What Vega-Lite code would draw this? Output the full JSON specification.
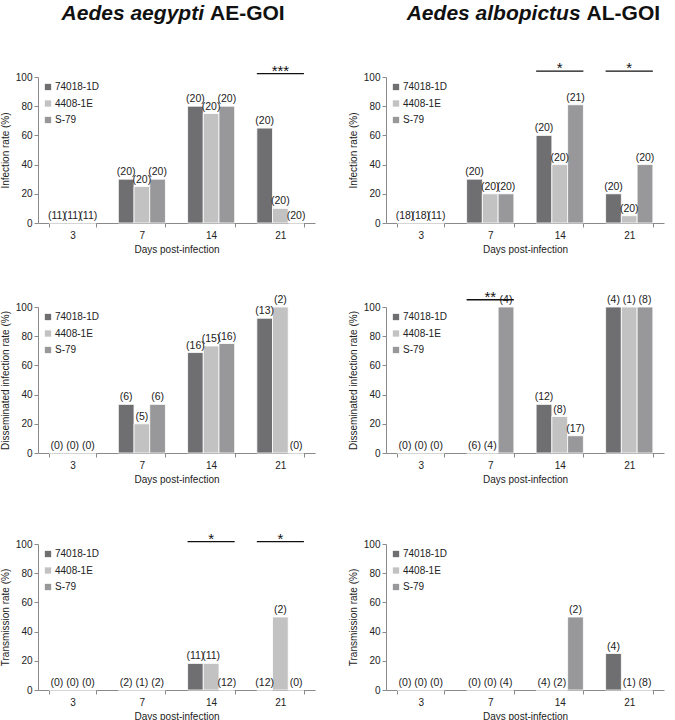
{
  "$schema": "https://vega.github.io/schema/vega-lite/v6.json",
  "padding": {"left": 0, "top": 2, "right": 0, "bottom": 0},
  "spacing": 36,
  "datasets": {
    "bars": [
      {"panel": "A1", "day": "3", "strain": "74018-1D", "rate": 0, "label": "(11)"},
      {"panel": "A1", "day": "3", "strain": "4408-1E", "rate": 0, "label": "(11)"},
      {"panel": "A1", "day": "3", "strain": "S-79", "rate": 0, "label": "(11)"},
      {"panel": "A1", "day": "7", "strain": "74018-1D", "rate": 30, "label": "(20)"},
      {"panel": "A1", "day": "7", "strain": "4408-1E", "rate": 25, "label": "(20)"},
      {"panel": "A1", "day": "7", "strain": "S-79", "rate": 30, "label": "(20)"},
      {"panel": "A1", "day": "14", "strain": "74018-1D", "rate": 80, "label": "(20)"},
      {"panel": "A1", "day": "14", "strain": "4408-1E", "rate": 75, "label": "(20)"},
      {"panel": "A1", "day": "14", "strain": "S-79", "rate": 80, "label": "(20)"},
      {"panel": "A1", "day": "21", "strain": "74018-1D", "rate": 65, "label": "(20)"},
      {"panel": "A1", "day": "21", "strain": "4408-1E", "rate": 10, "label": "(20)"},
      {"panel": "A1", "day": "21", "strain": "S-79", "rate": 0, "label": "(20)"},

      {"panel": "B1", "day": "3", "strain": "74018-1D", "rate": 0, "label": "(18)"},
      {"panel": "B1", "day": "3", "strain": "4408-1E", "rate": 0, "label": "(18)"},
      {"panel": "B1", "day": "3", "strain": "S-79", "rate": 0, "label": "(11)"},
      {"panel": "B1", "day": "7", "strain": "74018-1D", "rate": 30, "label": "(20)"},
      {"panel": "B1", "day": "7", "strain": "4408-1E", "rate": 20, "label": "(20)"},
      {"panel": "B1", "day": "7", "strain": "S-79", "rate": 20, "label": "(20)"},
      {"panel": "B1", "day": "14", "strain": "74018-1D", "rate": 60, "label": "(20)"},
      {"panel": "B1", "day": "14", "strain": "4408-1E", "rate": 40, "label": "(20)"},
      {"panel": "B1", "day": "14", "strain": "S-79", "rate": 81, "label": "(21)"},
      {"panel": "B1", "day": "21", "strain": "74018-1D", "rate": 20, "label": "(20)"},
      {"panel": "B1", "day": "21", "strain": "4408-1E", "rate": 5, "label": "(20)"},
      {"panel": "B1", "day": "21", "strain": "S-79", "rate": 40, "label": "(20)"},

      {"panel": "A2", "day": "3", "strain": "74018-1D", "rate": 0, "label": "(0)"},
      {"panel": "A2", "day": "3", "strain": "4408-1E", "rate": 0, "label": "(0)"},
      {"panel": "A2", "day": "3", "strain": "S-79", "rate": 0, "label": "(0)"},
      {"panel": "A2", "day": "7", "strain": "74018-1D", "rate": 33.3, "label": "(6)"},
      {"panel": "A2", "day": "7", "strain": "4408-1E", "rate": 20, "label": "(5)"},
      {"panel": "A2", "day": "7", "strain": "S-79", "rate": 33.3, "label": "(6)"},
      {"panel": "A2", "day": "14", "strain": "74018-1D", "rate": 68.8, "label": "(16)"},
      {"panel": "A2", "day": "14", "strain": "4408-1E", "rate": 73.3, "label": "(15)"},
      {"panel": "A2", "day": "14", "strain": "S-79", "rate": 75, "label": "(16)"},
      {"panel": "A2", "day": "21", "strain": "74018-1D", "rate": 92.3, "label": "(13)"},
      {"panel": "A2", "day": "21", "strain": "4408-1E", "rate": 100, "label": "(2)"},
      {"panel": "A2", "day": "21", "strain": "S-79", "rate": 0, "label": "(0)"},

      {"panel": "B2", "day": "3", "strain": "74018-1D", "rate": 0, "label": "(0)"},
      {"panel": "B2", "day": "3", "strain": "4408-1E", "rate": 0, "label": "(0)"},
      {"panel": "B2", "day": "3", "strain": "S-79", "rate": 0, "label": "(0)"},
      {"panel": "B2", "day": "7", "strain": "74018-1D", "rate": 0, "label": "(6)"},
      {"panel": "B2", "day": "7", "strain": "4408-1E", "rate": 0, "label": "(4)"},
      {"panel": "B2", "day": "7", "strain": "S-79", "rate": 100, "label": "(4)"},
      {"panel": "B2", "day": "14", "strain": "74018-1D", "rate": 33.3, "label": "(12)"},
      {"panel": "B2", "day": "14", "strain": "4408-1E", "rate": 25, "label": "(8)"},
      {"panel": "B2", "day": "14", "strain": "S-79", "rate": 11.8, "label": "(17)"},
      {"panel": "B2", "day": "21", "strain": "74018-1D", "rate": 100, "label": "(4)"},
      {"panel": "B2", "day": "21", "strain": "4408-1E", "rate": 100, "label": "(1)"},
      {"panel": "B2", "day": "21", "strain": "S-79", "rate": 100, "label": "(8)"},

      {"panel": "A3", "day": "3", "strain": "74018-1D", "rate": 0, "label": "(0)"},
      {"panel": "A3", "day": "3", "strain": "4408-1E", "rate": 0, "label": "(0)"},
      {"panel": "A3", "day": "3", "strain": "S-79", "rate": 0, "label": "(0)"},
      {"panel": "A3", "day": "7", "strain": "74018-1D", "rate": 0, "label": "(2)"},
      {"panel": "A3", "day": "7", "strain": "4408-1E", "rate": 0, "label": "(1)"},
      {"panel": "A3", "day": "7", "strain": "S-79", "rate": 0, "label": "(2)"},
      {"panel": "A3", "day": "14", "strain": "74018-1D", "rate": 18.2, "label": "(11)"},
      {"panel": "A3", "day": "14", "strain": "4408-1E", "rate": 18.2, "label": "(11)"},
      {"panel": "A3", "day": "14", "strain": "S-79", "rate": 0, "label": "(12)"},
      {"panel": "A3", "day": "21", "strain": "74018-1D", "rate": 0, "label": "(12)"},
      {"panel": "A3", "day": "21", "strain": "4408-1E", "rate": 50, "label": "(2)"},
      {"panel": "A3", "day": "21", "strain": "S-79", "rate": 0, "label": "(0)"},

      {"panel": "B3", "day": "3", "strain": "74018-1D", "rate": 0, "label": "(0)"},
      {"panel": "B3", "day": "3", "strain": "4408-1E", "rate": 0, "label": "(0)"},
      {"panel": "B3", "day": "3", "strain": "S-79", "rate": 0, "label": "(0)"},
      {"panel": "B3", "day": "7", "strain": "74018-1D", "rate": 0, "label": "(0)"},
      {"panel": "B3", "day": "7", "strain": "4408-1E", "rate": 0, "label": "(0)"},
      {"panel": "B3", "day": "7", "strain": "S-79", "rate": 0, "label": "(4)"},
      {"panel": "B3", "day": "14", "strain": "74018-1D", "rate": 0, "label": "(4)"},
      {"panel": "B3", "day": "14", "strain": "4408-1E", "rate": 0, "label": "(2)"},
      {"panel": "B3", "day": "14", "strain": "S-79", "rate": 50, "label": "(2)"},
      {"panel": "B3", "day": "21", "strain": "74018-1D", "rate": 25, "label": "(4)"},
      {"panel": "B3", "day": "21", "strain": "4408-1E", "rate": 0, "label": "(1)"},
      {"panel": "B3", "day": "21", "strain": "S-79", "rate": 0, "label": "(8)"}
    ],
    "sig": [
      {"panel": "A1", "day": "21", "stars": "***"},
      {"panel": "B1", "day": "14", "stars": "*"},
      {"panel": "B1", "day": "21", "stars": "*"},
      {"panel": "B2", "day": "7", "stars": "**"},
      {"panel": "A3", "day": "14", "stars": "*"},
      {"panel": "A3", "day": "21", "stars": "*"}
    ]
  },
  "resolve": {"scale": {"color": "independent", "xOffset": "independent"}, "legend": {"color": "independent"}},
  "vconcat": [
    {
      "spacing": 35,
      "resolve": {"scale": {"color": "independent", "xOffset": "independent"}, "legend": {"color": "independent"}},
      "vconcat": [
        {
          "spacing": 74,
          "hconcat": [
            {
              "width": 277, "height": 24,
              "data": {"values": [{"italic": "Aedes aegypti", "plain": "AE-GOI"}]},
              "layer": [
                {"mark": {"type": "text", "align": "right", "dx": -3, "fontSize": 21, "fontWeight": "bold", "fontStyle": "italic", "color": "#111", "font": "Liberation Sans"},
                 "encoding": {"x": {"datum": 0.61, "type": "quantitative", "scale": {"domain": [0, 1]}, "axis": null}, "text": {"field": "italic"}}},
                {"mark": {"type": "text", "align": "left", "dx": 3, "fontSize": 21, "fontWeight": "bold", "color": "#111", "font": "Liberation Sans"},
                 "encoding": {"x": {"datum": 0.61, "type": "quantitative"}, "text": {"field": "plain"}}}
              ]
            },
            {
              "width": 278, "height": 24,
              "data": {"values": [{"italic": "Aedes albopictus", "plain": "AL-GOI"}]},
              "layer": [
                {"mark": {"type": "text", "align": "right", "dx": -3, "fontSize": 21, "fontWeight": "bold", "fontStyle": "italic", "color": "#111", "font": "Liberation Sans"},
                 "encoding": {"x": {"datum": 0.70, "type": "quantitative", "scale": {"domain": [0, 1]}, "axis": null}, "text": {"field": "italic"}}},
                {"mark": {"type": "text", "align": "left", "dx": 3, "fontSize": 21, "fontWeight": "bold", "color": "#111", "font": "Liberation Sans"},
                 "encoding": {"x": {"datum": 0.70, "type": "quantitative"}, "text": {"field": "plain"}}}
              ]
            }
          ]
        },
        {
          "spacing": 33,
          "resolve": {"scale": {"color": "independent", "xOffset": "independent"}, "legend": {"color": "independent"}},
          "hconcat": [
            {
              "width": 277, "height": 146,
              "layer": [
                {"data": {"name": "bars"}, "transform": [{"filter": "datum.panel === 'A1'"}],
                 "mark": {"type": "bar", "stroke": "white", "strokeWidth": 0.8},
                 "encoding": {
                   "x": {"field": "day", "type": "nominal", "scale": {"domain": ["3", "7", "14", "21"], "paddingInner": 0.32, "paddingOuter": 0.16}, "axis": {"title": "Days post-infection"}},
                   "xOffset": {"field": "strain", "type": "nominal", "scale": {"domain": ["74018-1D", "4408-1E", "S-79"]}},
                   "y": {"field": "rate", "type": "quantitative", "scale": {"domain": [0, 100]}, "axis": {"title": "Infection rate (%)", "tickCount": 6}},
                   "color": {"field": "strain", "type": "nominal", "scale": {"domain": ["74018-1D", "4408-1E", "S-79"], "range": ["#6f6f72", "#c2c2c2", "#98989a"]}, "legend": {"title": null}}
                 }},
                {"data": {"name": "bars"}, "transform": [{"filter": "datum.panel === 'A1'"}],
                 "mark": {"type": "text", "dy": -7, "fontSize": 10.5, "color": "#222"},
                 "encoding": {"x": {"field": "day", "type": "nominal"}, "xOffset": {"field": "strain", "type": "nominal"}, "y": {"field": "rate", "type": "quantitative"}, "text": {"field": "label"}}},
                {"data": {"name": "sig"}, "transform": [{"filter": "datum.panel === 'A1'"}],
                 "mark": {"type": "bar", "color": "#111"},
                 "encoding": {"x": {"field": "day", "type": "nominal"}, "y": {"datum": 101.8}, "y2": {"datum": 102.7}}},
                {"data": {"name": "sig"}, "transform": [{"filter": "datum.panel === 'A1'"}],
                 "mark": {"type": "text", "baseline": "alphabetic", "fontSize": 15, "color": "#111"},
                 "encoding": {"x": {"field": "day", "type": "nominal"}, "y": {"datum": 100.6}, "text": {"field": "stars"}}}
              ]
            },
            {
              "width": 278, "height": 146,
              "layer": [
                {"data": {"name": "bars"}, "transform": [{"filter": "datum.panel === 'B1'"}],
                 "mark": {"type": "bar", "stroke": "white", "strokeWidth": 0.8},
                 "encoding": {
                   "x": {"field": "day", "type": "nominal", "scale": {"domain": ["3", "7", "14", "21"], "paddingInner": 0.32, "paddingOuter": 0.16}, "axis": {"title": "Days post-infection"}},
                   "xOffset": {"field": "strain", "type": "nominal", "scale": {"domain": ["74018-1D", "4408-1E", "S-79"]}},
                   "y": {"field": "rate", "type": "quantitative", "scale": {"domain": [0, 100]}, "axis": {"title": "Infection rate (%)", "tickCount": 6}},
                   "color": {"field": "strain", "type": "nominal", "scale": {"domain": ["74018-1D", "4408-1E", "S-79"], "range": ["#6f6f72", "#c2c2c2", "#98989a"]}, "legend": {"title": null}}
                 }},
                {"data": {"name": "bars"}, "transform": [{"filter": "datum.panel === 'B1'"}],
                 "mark": {"type": "text", "dy": -7, "fontSize": 10.5, "color": "#222"},
                 "encoding": {"x": {"field": "day", "type": "nominal"}, "xOffset": {"field": "strain", "type": "nominal"}, "y": {"field": "rate", "type": "quantitative"}, "text": {"field": "label"}}},
                {"data": {"name": "sig"}, "transform": [{"filter": "datum.panel === 'B1'"}],
                 "mark": {"type": "bar", "color": "#111"},
                 "encoding": {"x": {"field": "day", "type": "nominal"}, "y": {"datum": 103.6}, "y2": {"datum": 104.5}}},
                {"data": {"name": "sig"}, "transform": [{"filter": "datum.panel === 'B1'"}],
                 "mark": {"type": "text", "baseline": "alphabetic", "fontSize": 15, "color": "#111"},
                 "encoding": {"x": {"field": "day", "type": "nominal"}, "y": {"datum": 102.4}, "text": {"field": "stars"}}}
              ]
            }
          ]
        }
      ]
    },
    {
      "spacing": 48,
      "resolve": {"scale": {"color": "independent", "xOffset": "independent"}, "legend": {"color": "independent"}},
      "vconcat": [
        {
          "spacing": 33,
          "resolve": {"scale": {"color": "independent", "xOffset": "independent"}, "legend": {"color": "independent"}},
          "hconcat": [
            {
              "width": 277, "height": 146,
              "layer": [
                {"data": {"name": "bars"}, "transform": [{"filter": "datum.panel === 'A2'"}],
                 "mark": {"type": "bar", "stroke": "white", "strokeWidth": 0.8},
                 "encoding": {
                   "x": {"field": "day", "type": "nominal", "scale": {"domain": ["3", "7", "14", "21"], "paddingInner": 0.32, "paddingOuter": 0.16}, "axis": {"title": "Days post-infection"}},
                   "xOffset": {"field": "strain", "type": "nominal", "scale": {"domain": ["74018-1D", "4408-1E", "S-79"]}},
                   "y": {"field": "rate", "type": "quantitative", "scale": {"domain": [0, 100]}, "axis": {"title": "Disseminated infection rate (%)", "tickCount": 6}},
                   "color": {"field": "strain", "type": "nominal", "scale": {"domain": ["74018-1D", "4408-1E", "S-79"], "range": ["#6f6f72", "#c2c2c2", "#98989a"]}, "legend": {"title": null}}
                 }},
                {"data": {"name": "bars"}, "transform": [{"filter": "datum.panel === 'A2'"}],
                 "mark": {"type": "text", "dy": -7, "fontSize": 10.5, "color": "#222"},
                 "encoding": {"x": {"field": "day", "type": "nominal"}, "xOffset": {"field": "strain", "type": "nominal"}, "y": {"field": "rate", "type": "quantitative"}, "text": {"field": "label"}}}
              ]
            },
            {
              "width": 278, "height": 146,
              "layer": [
                {"data": {"name": "bars"}, "transform": [{"filter": "datum.panel === 'B2'"}],
                 "mark": {"type": "bar", "stroke": "white", "strokeWidth": 0.8},
                 "encoding": {
                   "x": {"field": "day", "type": "nominal", "scale": {"domain": ["3", "7", "14", "21"], "paddingInner": 0.32, "paddingOuter": 0.16}, "axis": {"title": "Days post-infection"}},
                   "xOffset": {"field": "strain", "type": "nominal", "scale": {"domain": ["74018-1D", "4408-1E", "S-79"]}},
                   "y": {"field": "rate", "type": "quantitative", "scale": {"domain": [0, 100]}, "axis": {"title": "Disseminated infection rate (%)", "tickCount": 6}},
                   "color": {"field": "strain", "type": "nominal", "scale": {"domain": ["74018-1D", "4408-1E", "S-79"], "range": ["#6f6f72", "#c2c2c2", "#98989a"]}, "legend": {"title": null}}
                 }},
                {"data": {"name": "bars"}, "transform": [{"filter": "datum.panel === 'B2'"}],
                 "mark": {"type": "text", "dy": -7, "fontSize": 10.5, "color": "#222"},
                 "encoding": {"x": {"field": "day", "type": "nominal"}, "xOffset": {"field": "strain", "type": "nominal"}, "y": {"field": "rate", "type": "quantitative"}, "text": {"field": "label"}}},
                {"data": {"name": "sig"}, "transform": [{"filter": "datum.panel === 'B2'"}],
                 "mark": {"type": "bar", "color": "#111"},
                 "encoding": {"x": {"field": "day", "type": "nominal"}, "y": {"datum": 104.5}, "y2": {"datum": 105.4}}},
                {"data": {"name": "sig"}, "transform": [{"filter": "datum.panel === 'B2'"}],
                 "mark": {"type": "text", "baseline": "alphabetic", "fontSize": 15, "color": "#111"},
                 "encoding": {"x": {"field": "day", "type": "nominal"}, "y": {"datum": 103.3}, "text": {"field": "stars"}}}
              ]
            }
          ]
        },
        {
          "spacing": 33,
          "resolve": {"scale": {"color": "independent", "xOffset": "independent"}, "legend": {"color": "independent"}},
          "hconcat": [
            {
              "width": 277, "height": 146,
              "layer": [
                {"data": {"name": "bars"}, "transform": [{"filter": "datum.panel === 'A3'"}],
                 "mark": {"type": "bar", "stroke": "white", "strokeWidth": 0.8},
                 "encoding": {
                   "x": {"field": "day", "type": "nominal", "scale": {"domain": ["3", "7", "14", "21"], "paddingInner": 0.32, "paddingOuter": 0.16}, "axis": {"title": "Days post-infection"}},
                   "xOffset": {"field": "strain", "type": "nominal", "scale": {"domain": ["74018-1D", "4408-1E", "S-79"]}},
                   "y": {"field": "rate", "type": "quantitative", "scale": {"domain": [0, 100]}, "axis": {"title": "Transmission rate (%)", "tickCount": 6}},
                   "color": {"field": "strain", "type": "nominal", "scale": {"domain": ["74018-1D", "4408-1E", "S-79"], "range": ["#6f6f72", "#c2c2c2", "#98989a"]}, "legend": {"title": null}}
                 }},
                {"data": {"name": "bars"}, "transform": [{"filter": "datum.panel === 'A3'"}],
                 "mark": {"type": "text", "dy": -7, "fontSize": 10.5, "color": "#222"},
                 "encoding": {"x": {"field": "day", "type": "nominal"}, "xOffset": {"field": "strain", "type": "nominal"}, "y": {"field": "rate", "type": "quantitative"}, "text": {"field": "label"}}},
                {"data": {"name": "sig"}, "transform": [{"filter": "datum.panel === 'A3'"}],
                 "mark": {"type": "bar", "color": "#111"},
                 "encoding": {"x": {"field": "day", "type": "nominal"}, "y": {"datum": 101.2}, "y2": {"datum": 102.1}}},
                {"data": {"name": "sig"}, "transform": [{"filter": "datum.panel === 'A3'"}],
                 "mark": {"type": "text", "baseline": "alphabetic", "fontSize": 15, "color": "#111"},
                 "encoding": {"x": {"field": "day", "type": "nominal"}, "y": {"datum": 100}, "text": {"field": "stars"}}}
              ]
            },
            {
              "width": 278, "height": 146,
              "layer": [
                {"data": {"name": "bars"}, "transform": [{"filter": "datum.panel === 'B3'"}],
                 "mark": {"type": "bar", "stroke": "white", "strokeWidth": 0.8},
                 "encoding": {
                   "x": {"field": "day", "type": "nominal", "scale": {"domain": ["3", "7", "14", "21"], "paddingInner": 0.32, "paddingOuter": 0.16}, "axis": {"title": "Days post-infection"}},
                   "xOffset": {"field": "strain", "type": "nominal", "scale": {"domain": ["74018-1D", "4408-1E", "S-79"]}},
                   "y": {"field": "rate", "type": "quantitative", "scale": {"domain": [0, 100]}, "axis": {"title": "Transmission rate (%)", "tickCount": 6}},
                   "color": {"field": "strain", "type": "nominal", "scale": {"domain": ["74018-1D", "4408-1E", "S-79"], "range": ["#6f6f72", "#c2c2c2", "#98989a"]}, "legend": {"title": null}}
                 }},
                {"data": {"name": "bars"}, "transform": [{"filter": "datum.panel === 'B3'"}],
                 "mark": {"type": "text", "dy": -7, "fontSize": 10.5, "color": "#222"},
                 "encoding": {"x": {"field": "day", "type": "nominal"}, "xOffset": {"field": "strain", "type": "nominal"}, "y": {"field": "rate", "type": "quantitative"}, "text": {"field": "label"}}}
              ]
            }
          ]
        }
      ]
    }
  ],
  "config": {
    "view": {"stroke": null},
    "font": "Liberation Sans",
    "text": {"font": "Liberation Sans"},
    "axis": {"labelFont": "Liberation Sans", "titleFont": "Liberation Sans", "labelFontSize": 10, "titleFontSize": 10, "titleFontWeight": "normal", "labelColor": "#222", "titleColor": "#222", "domainColor": "#8a8a8a", "tickColor": "#8a8a8a", "grid": false, "tickSize": 4},
    "axisX": {"labelAngle": 0, "tickBand": "extent", "labelPadding": 3, "titlePadding": 4},
    "axisY": {"titlePadding": 5},
    "legend": {"orient": "top-left", "offset": 5, "padding": 0, "labelFontSize": 10, "labelFont": "Liberation Sans", "labelColor": "#222", "symbolType": "square", "symbolSize": 40, "rowPadding": 6.5, "labelOffset": 2, "symbolStrokeWidth": 0}
  }
}
